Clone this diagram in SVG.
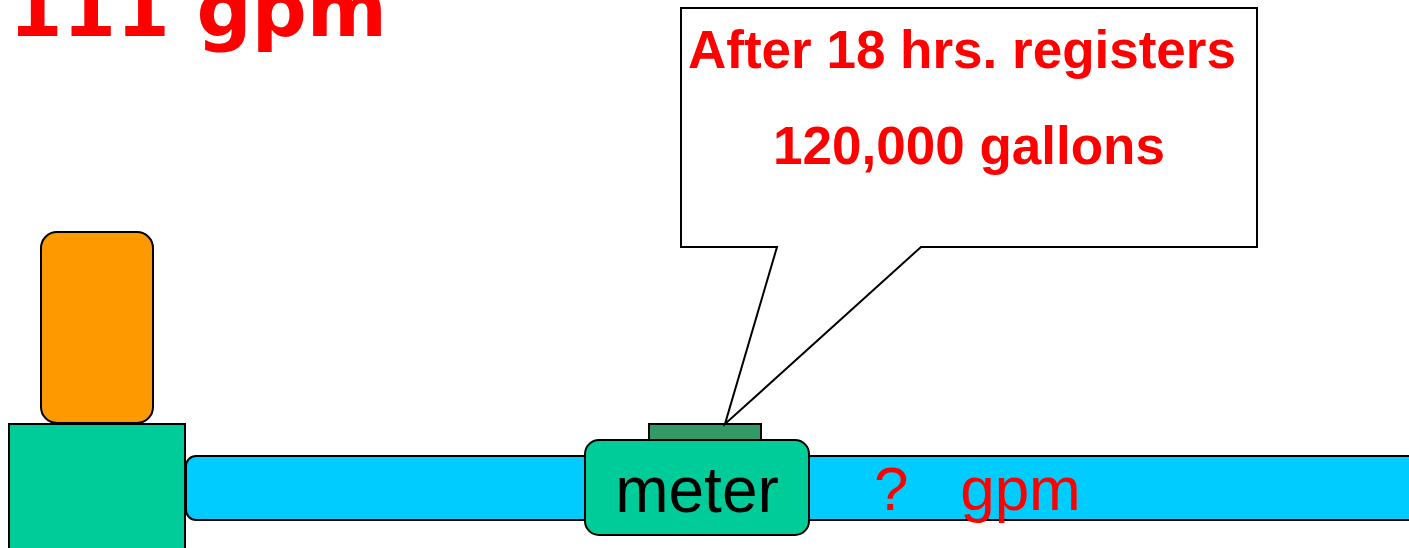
<svg xmlns="http://www.w3.org/2000/svg" width="1409" height="548" viewBox="0 0 1409 548">
  <style>
    .shape { stroke: #000; stroke-width: 2; }
    .red-bold { fill: #FF0000; font-family: "Liberation Sans", Arial, sans-serif; font-weight: bold; }
    .label { font-family: "Liberation Sans", Arial, sans-serif; }
  </style>
  <rect width="1409" height="548" fill="#fff"/>

  <!-- flow rate heading -->
  <g id="heading">
    <text x="9" y="36" fill="#FF0000" font-family="'DejaVu Sans', Verdana, sans-serif" font-weight="bold" font-size="77">111 gpm</text>
  </g>

  <!-- pipe runs behind the meter and off the right edge -->
  <g id="pipe">
    <rect class="shape" x="186" y="456" width="1240" height="64" rx="10" fill="#00CCFF"/>
  </g>

  <!-- pump base and motor -->
  <g id="pump">
    <rect class="shape" x="9" y="424" width="176" height="140" fill="#00CC99"/>
    <rect class="shape" x="41" y="232" width="112" height="191" rx="16" fill="#FF9900"/>
  </g>

  <!-- meter body with register on top -->
  <g id="meter">
    <rect class="shape" x="649" y="424" width="112" height="16" fill="#339966"/>
    <rect class="shape" x="585" y="440" width="224" height="95" rx="14" fill="#00CC99"/>
    <text class="label" x="697" y="512" font-size="64" text-anchor="middle" fill="#000">meter</text>
  </g>

  <!-- unknown downstream rate -->
  <g id="rate">
    <text class="label" x="874" y="510" font-size="62" fill="#FF0000" xml:space="preserve">?   gpm</text>
  </g>

  <!-- callout pointing at the register -->
  <g id="callout">
    <path class="shape" d="M681 8 H1257 V247 H921 L725 424 L777 247 H681 Z" fill="#fff"/>
    <text class="red-bold" x="962" y="68" font-size="53" text-anchor="middle">After 18 hrs. registers</text>
    <text class="red-bold" x="969" y="164" font-size="53" text-anchor="middle">120,000 gallons</text>
  </g>
</svg>
